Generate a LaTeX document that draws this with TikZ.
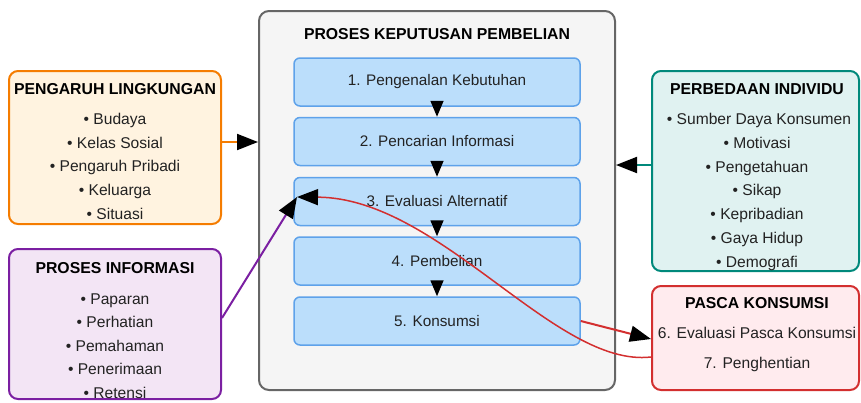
\documentclass[tikz,border=0pt]{standalone}
\usepackage{fontspec}
\setmainfont{Liberation Sans}
\usetikzlibrary{arrows.meta}
\definecolor{contfill}{HTML}{F5F5F5}
\definecolor{contdraw}{HTML}{666666}
\definecolor{bluefill}{HTML}{BBDEFB}
\definecolor{bluedraw}{HTML}{5EA2EA}
\definecolor{orfill}{HTML}{FFF3E0}
\definecolor{ordraw}{HTML}{F57C00}
\definecolor{pufill}{HTML}{F3E5F5}
\definecolor{pudraw}{HTML}{7B1FA2}
\definecolor{tefill}{HTML}{E0F2F1}
\definecolor{tedraw}{HTML}{00897B}
\definecolor{refill}{HTML}{FFEBEE}
\definecolor{redraw}{HTML}{D32F2F}
\definecolor{txtcol}{HTML}{222222}
\tikzset{
  basefont/.style={font=\fontsize{15.3}{18}\selectfont, text=txtcol},
  panel/.style={draw, line width=2pt, rounded corners=9pt, inner sep=0pt},
  stepbox/.style={draw=bluedraw, fill=bluefill, line width=1.5pt, rounded corners=6pt,
     minimum width=286pt, minimum height=48pt, inner sep=0pt, basefont},
  ttl/.style={anchor=base, inner sep=0pt, font=\fontsize{15.8}{18}\selectfont\bfseries, text=black},
  itm/.style={anchor=base, inner sep=0pt, font=\fontsize{15.6}{18}\selectfont, text=txtcol},
  flow/.style={line width=1.5pt, -{Triangle[length=16pt,width=13pt,color=black]}},
  sidearrow/.style={line width=2pt, -{Triangle[length=21pt,width=16pt,color=black]}},
}
\begin{document}
\begin{tikzpicture}[x=1pt,y=-1pt]
\useasboundingbox (0,0) rectangle (861,402);

% container
\node[panel, draw=contdraw, fill=contfill, minimum width=356pt, minimum height=379pt, rounded corners=10pt] (cont) at (437,200.5) {};
\node[ttl] (ct) at (437,39) {PROSES KEPUTUSAN PEMBELIAN};

% steps
\node[stepbox] (s1) at (437,82) {1. Pengenalan Kebutuhan};
\node[stepbox] (s2) at (437,141.5) {2. Pencarian Informasi};
\node[stepbox] (s3) at (437,201.5) {3. Evaluasi Alternatif};
\node[stepbox] (s4) at (437,261) {4. Pembelian};
\node[stepbox] (s5) at (437,321) {5. Konsumsi};

\draw[flow] ([yshift=5pt]s1.south) -- (s2.north);
\draw[flow] ([yshift=5pt]s2.south) -- (s3.north);
\draw[flow] ([yshift=5pt]s3.south) -- (s4.north);
\draw[flow] ([yshift=5pt]s4.south) -- (s5.north);

% left: pengaruh lingkungan
\node[panel, draw=ordraw, fill=orfill, minimum width=212pt, minimum height=153pt] (pl) at (115,147.5) {};
\node[ttl] (plt) at (115,94.5) {PENGARUH LINGKUNGAN};
\node[itm] (pl1) at (115,124.5) {• Budaya};
\node[itm] (pl2) at (115,148.5) {• Kelas Sosial};
\node[itm] (pl3) at (115,171.5) {• Pengaruh Pribadi};
\node[itm] (pl4) at (115,195.5) {• Keluarga};
\node[itm] (pl5) at (115,219) {• Situasi};

% left: proses informasi
\node[panel, draw=pudraw, fill=pufill, minimum width=212pt, minimum height=150pt] (pi) at (115,324) {};
\node[ttl] (pit) at (115,273.5) {PROSES INFORMASI};
\node[itm] (pi1) at (115,304) {• Paparan};
\node[itm] (pi2) at (115,327.5) {• Perhatian};
\node[itm] (pi3) at (115,351) {• Pemahaman};
\node[itm] (pi4) at (115,374) {• Penerimaan};
\node[itm] (pi5) at (115,398) {• Retensi};

% right: perbedaan individu
\node[panel, draw=tedraw, fill=tefill, minimum width=207pt, minimum height=200pt] (pd) at (755.5,171) {};
\node[ttl] (pdt) at (757,94.5) {PERBEDAAN INDIVIDU};
\node[itm] (pd1) at (759,124.5) {• Sumber Daya Konsumen};
\node[itm] (pd2) at (757,148.5) {• Motivasi};
\node[itm] (pd3) at (757,172) {• Pengetahuan};
\node[itm] (pd4) at (757,195.5) {• Sikap};
\node[itm] (pd5) at (757,219.5) {• Kepribadian};
\node[itm] (pd6) at (757,243.5) {• Gaya Hidup};
\node[itm] (pd7) at (757,267) {• Demografi};

% right: pasca konsumsi
\node[panel, draw=redraw, fill=refill, minimum width=207pt, minimum height=104pt] (pk) at (755.5,338) {};
\node[ttl] (pkt) at (757,308.5) {PASCA KONSUMSI};
\node[itm] (pk1) at (757,338.5) {6. Evaluasi Pasca Konsumsi};
\node[itm] (pk2) at (757,368.5) {7. Penghentian};

% connectors
\coordinate (oa) at (0,142);
\coordinate (ta) at (0,165);
\coordinate (tgt) at (297,197);
\draw[sidearrow, draw=ordraw] (pl.east|-oa) -- (cont.west|-oa);
\draw[sidearrow, draw=tedraw] (pd.west|-ta) -- (cont.east|-ta);
\draw[sidearrow, draw=pudraw] ([yshift=6pt]pi.east) -- (tgt);
\draw[sidearrow, draw=redraw] (s5.east) -- ([yshift=-1pt]pk.west);
\draw[sidearrow, draw=redraw, line width=1.5pt] ([yshift=-19pt]pk.west) .. controls (555,368) and (440,198) .. (tgt);
\end{tikzpicture}
\end{document}
